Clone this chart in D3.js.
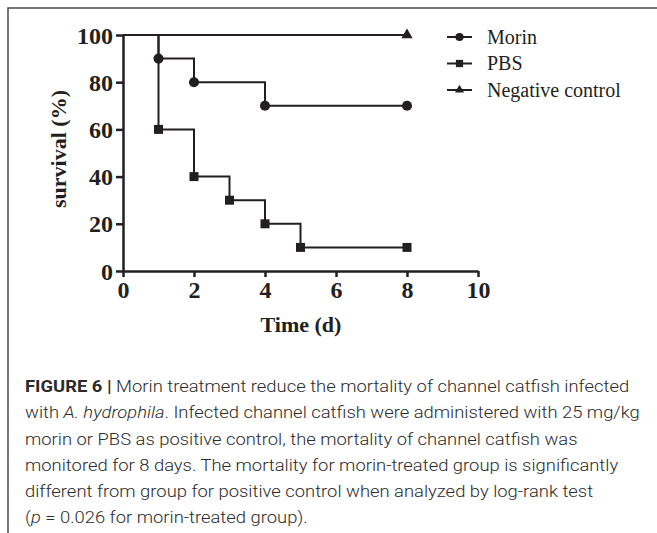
<!DOCTYPE html>
<html lang="en">
<head>
<meta charset="UTF-8">
<title>Figure 6</title>
<script src="https://d3js.org/d3.v7.min.js"></script>
<style>
  body { margin: 0; background: #fff; }
  svg { display: block; }
  .tick-label { font-family: "Liberation Serif", "Times New Roman", serif; font-weight: bold; font-size: 24px; fill: #231f20; }
  .axis-title { font-family: "Liberation Serif", "Times New Roman", serif; font-weight: bold; font-size: 22px; fill: #231f20; }
  .legend-text { font-family: "Liberation Serif", "Times New Roman", serif; font-size: 20px; fill: #231f20; }
  .caption { font-family: Roboto, "Liberation Sans", Arial, sans-serif; font-weight: 300; font-size: 16.5px; fill: #2b2b2b; }
</style>
</head>
<body>
<script>
// survival data (Kaplan-Meier steps), time in days, survival in %
var seriesNames = ["Morin", "PBS", "Negative control"];
var morinTime = [0, 1, 2, 4, 8];
var morinSurv = [100, 90, 80, 70, 70];
var pbsTime = [0, 1, 2, 3, 4, 5, 8];
var pbsSurv = [100, 60, 40, 30, 20, 10, 10];
var negTime = [0, 8];
var negSurv = [100, 100];

var xTicks = [0, 2, 4, 6, 8, 10];
var yTicks = [0, 20, 40, 60, 80, 100];

var captionLines = [
  [["FIGURE 6 |", "b"], [" Morin treatment reduce the mortality of channel catfish infected", ""]],
  [["with ", ""], ["A. hydrophila", "i"], [". Infected channel catfish were administered with 25 mg/kg", ""]],
  [["morin or PBS as positive control, the mortality of channel catfish was", ""]],
  [["monitored for 8 days. The mortality for morin-treated group is significantly", ""]],
  [["different from group for positive control when analyzed by log-rank test", ""]],
  [["(", ""], ["p", "i"], [" = 0.026 for morin-treated group).", ""]]
];

var W = 657, H = 533, ink = "#231f20";
var svg = d3.select("body").append("svg").attr("width", W).attr("height", H);

// frame (top + left only)
svg.append("path").attr("d", "M8," + H + "V8H" + W)
  .attr("fill", "none").attr("stroke", "#4a4a4a").attr("stroke-width", 1.5);

var x = d3.scaleLinear().domain([0, 10]).range([123, 478]);
var y = d3.scaleLinear().domain([0, 100]).range([271, 35]);

// axes
var xAxis = svg.append("g").attr("transform", "translate(0," + y(0) + ")")
  .call(d3.axisBottom(x).tickValues(xTicks).tickSize(6).tickSizeOuter(0).tickFormat(d3.format("d")));
var yAxis = svg.append("g").attr("transform", "translate(" + x(0) + ",0)")
  .call(d3.axisLeft(y).tickValues(yTicks).tickSize(7).tickSizeOuter(0).tickFormat(d3.format("d")));

[xAxis, yAxis].forEach(function (g) {
  g.select(".domain").attr("stroke", ink).attr("stroke-width", 2.5);
  g.selectAll(".tick line").attr("stroke", ink).attr("stroke-width", 2.5);
  g.selectAll(".tick text").attr("class", "tick-label").attr("fill", null);
});
xAxis.selectAll(".tick text").attr("y", 10).attr("dy", "0.71em");
yAxis.selectAll(".tick text").attr("x", -10).attr("dy", "0.34em");

svg.append("text").attr("class", "axis-title")
  .attr("x", 301).attr("y", 332).attr("text-anchor", "middle").text("Time (d)");
svg.append("text").attr("class", "axis-title")
  .attr("transform", "translate(66,149) rotate(-90)")
  .attr("text-anchor", "middle").text("survival (%)");

// step curves
var series = [
  { name: seriesNames[0], pts: d3.zip(morinTime, morinSurv), shape: d3.symbolCircle, size: 80 },
  { name: seriesNames[1], pts: d3.zip(pbsTime, pbsSurv), shape: d3.symbolSquare, size: 81 },
  { name: seriesNames[2], pts: d3.zip(negTime, negSurv), shape: d3.symbolTriangle, size: 55 }
];

var line = d3.line()
  .x(function (d) { return x(d[0]); })
  .y(function (d) { return y(d[1]); })
  .curve(d3.curveStepAfter);

series.forEach(function (s) {
  svg.append("path").attr("d", line(s.pts))
    .attr("fill", "none").attr("stroke", ink).attr("stroke-width", 2);
  svg.append("g").selectAll("path")
    .data(s.pts.filter(function (d) { return d[0] > 0; }))
    .enter().append("path")
    .attr("d", d3.symbol().type(s.shape).size(s.size))
    .attr("transform", function (d) { return "translate(" + x(d[0]) + "," + y(d[1]) + ")"; })
    .attr("fill", ink);
});

// legend
var legend = svg.append("g").selectAll("g").data(series).enter().append("g")
  .attr("transform", function (d, i) { return "translate(447," + (37 + i * 26.5) + ")"; });
legend.append("line").attr("x1", 0).attr("x2", 25).attr("stroke", ink).attr("stroke-width", 2);
legend.append("path")
  .attr("d", function (d) { return d3.symbol().type(d.shape).size(d.size * 0.65)(); })
  .attr("transform", "translate(12.5,0)").attr("fill", ink);
legend.append("text").attr("class", "legend-text")
  .attr("x", 40).attr("y", 6.5).text(function (d) { return d.name; });

// caption: reference face is a condensed light grotesque, so squeeze horizontally
var cap = svg.append("g");
var capText = cap.append("g");
captionLines.forEach(function (segs, i) {
  var t = capText.append("text").attr("class", "caption")
    .attr("x", 0).attr("y", 392 + i * 26.3);
  segs.forEach(function (s) {
    var ts = t.append("tspan").text(s[0]);
    if (s[1] === "b") ts.attr("font-weight", "bold");
    if (s[1] === "i") ts.attr("font-style", "italic");
  });
});
var w2 = capText.selectAll("text").nodes()[1].getComputedTextLength();
cap.attr("transform", "translate(25,0)");
capText.attr("transform", "scale(" + (615 / w2) + ",1)");
</script>
</body>
</html>
